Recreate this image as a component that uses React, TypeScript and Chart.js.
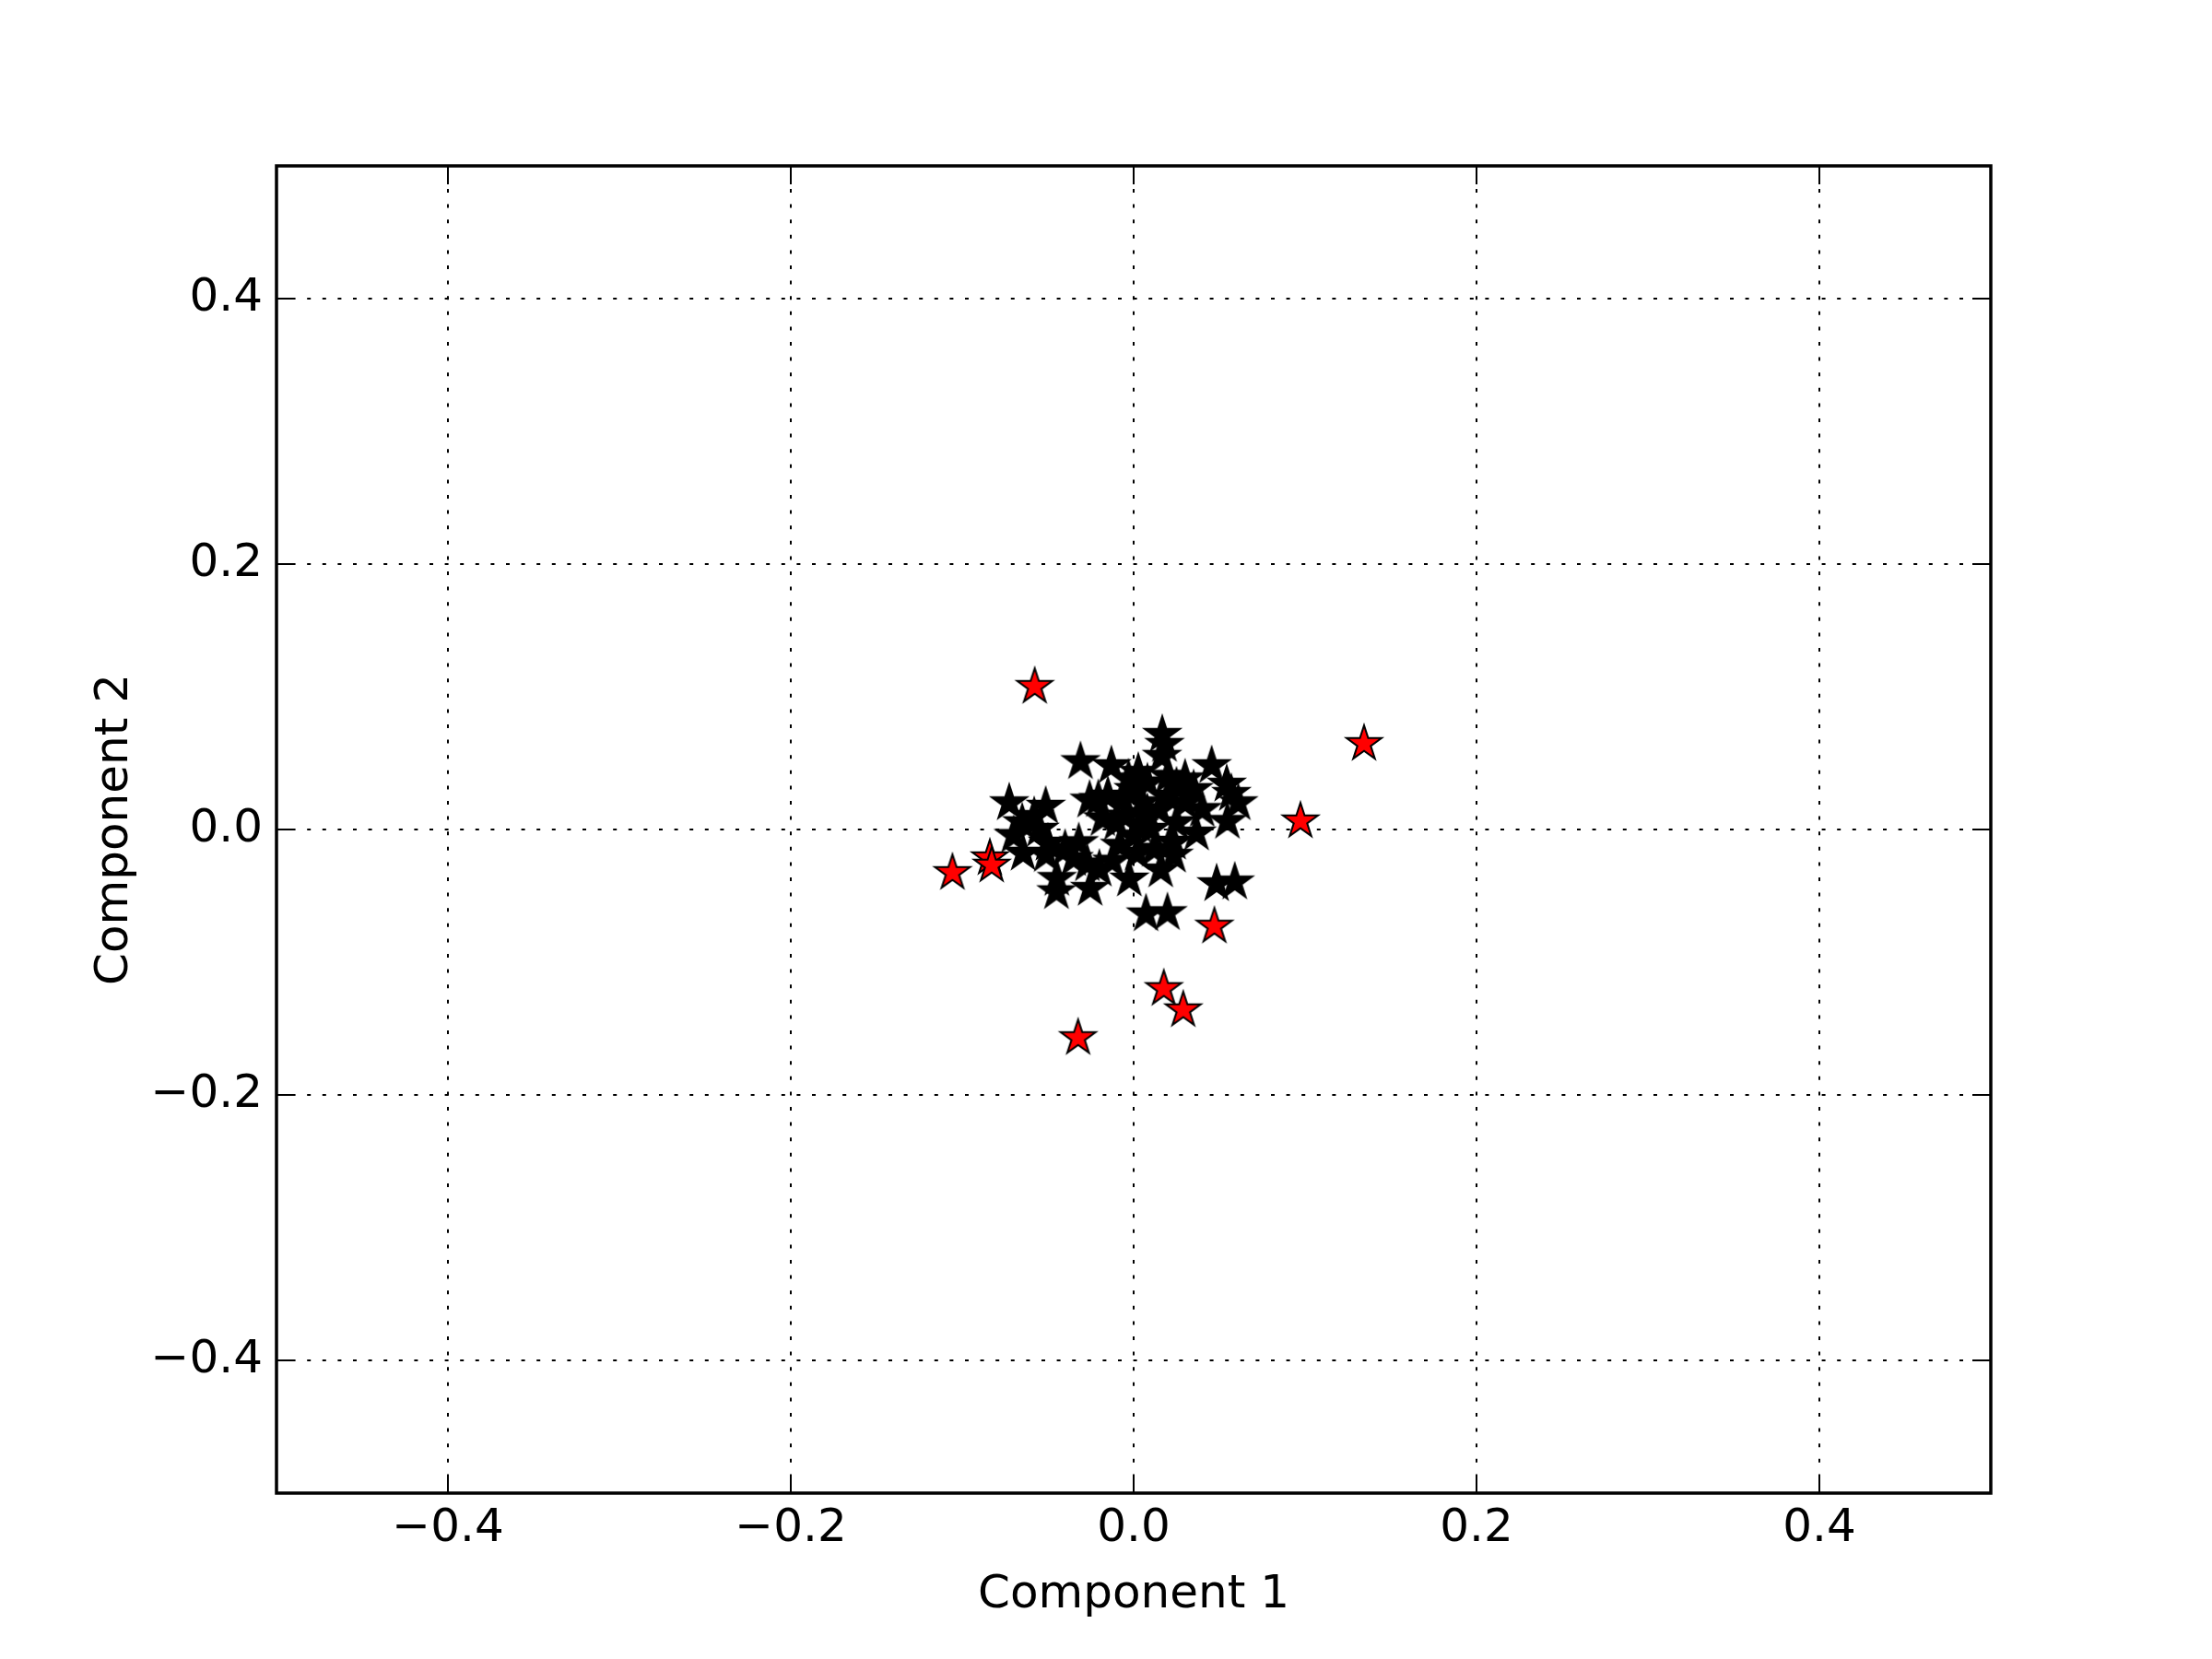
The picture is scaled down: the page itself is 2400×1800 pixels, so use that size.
import React, { useEffect, useRef } from "react";
import { Chart, registerables } from "chart.js";

Chart.register(...registerables);

const blackX = [
  0.0167, 0.018, 0.0165, -0.031, -0.013, 0.0027, 0.0455, 0.03, 0.0543, 0.057,
  0.061, 0.0547, -0.0726, -0.0513, -0.058, -0.0257, -0.0206, -0.07, -0.0645, -0.05,
  -0.051, -0.032, -0.0448, -0.045, -0.0254, -0.027, -0.0125, -0.0025, 0.0158, 0.0233,
  0.0367, 0.0484, 0.059, 0.0072, 0.0197, 0.0233, 0.0, 0.005, -0.005, 0.01,
  0.0, -0.01, 0.015, 0.02, 0.025, -0.015, 0.008, -0.003, 0.012, -0.008,
  0.03, 0.035, 0.02, 0.04, -0.065, -0.055, -0.04, -0.035, -0.02, -0.018,
  0.003, 0.008, -0.006, 0.025, 0.002,
];
const blackY = [
  0.0715, 0.064, 0.055, 0.051, 0.048, 0.043, 0.048, 0.038, 0.034, 0.027,
  0.02, 0.006, 0.02, 0.0174, 0.0097, 0.022, 0.0225, -0.0046, -0.018, -0.0104,
  -0.019, -0.01, -0.037, -0.047, -0.0445, -0.026, -0.024, -0.0375, -0.0306, -0.0097,
  -0.0028, -0.041, -0.0397, -0.0637, -0.0628, -0.0195, 0.03, 0.02, 0.01, 0.0,
  -0.005, 0.005, 0.015, 0.025, 0.005, 0.025, 0.035, 0.038, -0.015, -0.012,
  0.02, 0.03, 0.04, 0.015, 0.005, 0.0, -0.015, -0.022, -0.03, 0.008,
  0.003, 0.012, 0.022, 0.032, -0.018,
];

const redX = [-0.0577, 0.1344, 0.0973, -0.1057, -0.0839, -0.0828, 0.0471, 0.0176, 0.0289, -0.0324];
const redY = [0.1076, 0.0646, 0.0063, -0.0326, -0.0215, -0.027, -0.073, -0.12, -0.136, -0.157];

const tickValues = [-0.4, -0.2, 0.0, 0.2, 0.4];
const tickLabels = ["\u22120.4", "\u22120.2", "0.0", "0.2", "0.4"];
const axisMin = -0.5;
const axisMax = 0.5;
const xTitle = "Component 1";
const yTitle = "Component 2";

const FONT = "'DejaVu Sans', sans-serif";

function makeStar(fill: string): HTMLCanvasElement {
  const size = 48;
  const c = document.createElement("canvas");
  c.width = size;
  c.height = size;
  const ctx = c.getContext("2d")!;
  const R = 20;
  const r = R * 0.381966;
  const cx = size / 2;
  const cy = size / 2;
  ctx.beginPath();
  for (let i = 0; i < 10; i++) {
    const rad = i % 2 === 0 ? R : r;
    const a = -Math.PI / 2 + (i * Math.PI) / 5;
    const px = cx + rad * Math.cos(a);
    const py = cy + rad * Math.sin(a);
    if (i === 0) ctx.moveTo(px, py);
    else ctx.lineTo(px, py);
  }
  ctx.closePath();
  ctx.fillStyle = fill;
  ctx.fill();
  ctx.lineWidth = 2;
  ctx.lineJoin = "miter";
  ctx.strokeStyle = "#000000";
  ctx.stroke();
  return c;
}

const framePlugin = {
  id: "mplFrame",
  beforeDatasetsDraw(chart: any) {
    const { ctx, chartArea } = chart;
    const xs = chart.scales.x;
    const ys = chart.scales.y;
    ctx.save();
    ctx.strokeStyle = "#000000";
    ctx.lineWidth = 2;
    ctx.setLineDash([4, 12.6]);
    tickValues.forEach((v) => {
      const px = Math.round(xs.getPixelForValue(v));
      ctx.beginPath();
      ctx.moveTo(px, chartArea.bottom);
      ctx.lineTo(px, chartArea.top);
      ctx.stroke();
      const py = Math.round(ys.getPixelForValue(v));
      ctx.beginPath();
      ctx.moveTo(chartArea.left, py);
      ctx.lineTo(chartArea.right, py);
      ctx.stroke();
    });
    ctx.restore();
  },
  afterDatasetsDraw(chart: any) {
    const { ctx, chartArea } = chart;
    const xs = chart.scales.x;
    const ys = chart.scales.y;
    const tl = 20;
    ctx.save();
    ctx.strokeStyle = "#000000";
    ctx.setLineDash([]);
    ctx.lineWidth = 2;
    tickValues.forEach((v) => {
      const px = Math.round(xs.getPixelForValue(v));
      ctx.beginPath();
      ctx.moveTo(px, chartArea.bottom);
      ctx.lineTo(px, chartArea.bottom - tl);
      ctx.moveTo(px, chartArea.top);
      ctx.lineTo(px, chartArea.top + tl);
      ctx.stroke();
      const py = Math.round(ys.getPixelForValue(v));
      ctx.beginPath();
      ctx.moveTo(chartArea.left, py);
      ctx.lineTo(chartArea.left + tl, py);
      ctx.moveTo(chartArea.right, py);
      ctx.lineTo(chartArea.right - tl, py);
      ctx.stroke();
    });
    ctx.lineWidth = 3.5;
    ctx.strokeRect(chartArea.left, chartArea.top, chartArea.right - chartArea.left, chartArea.bottom - chartArea.top);
    ctx.restore();
  },
};

export default function App() {
  const ref = useRef<HTMLCanvasElement | null>(null);

  useEffect(() => {
    if (!ref.current) return;
    const blackStar = makeStar("#000000");
    const redStar = makeStar("#ff0000");
    const blackData = blackX.map((x, i) => ({ x, y: blackY[i] }));
    const redData = redX.map((x, i) => ({ x, y: redY[i] }));

    const setTicks = (scale: any) => {
      scale.ticks = tickValues.map((value) => ({ value }));
    };

    const chart = new Chart(ref.current, {
      type: "scatter",
      data: {
        datasets: [
          {
            data: blackData,
            pointStyle: blackStar as any,
            backgroundColor: "#000000",
            borderColor: "#000000",
          },
          {
            data: redData,
            pointStyle: redStar as any,
            backgroundColor: "#ff0000",
            borderColor: "#000000",
          },
        ],
      },
      options: {
        responsive: false,
        animation: false,
        events: [],
        layout: { padding: { top: 180, right: 240, left: 0, bottom: 0 } },
        plugins: {
          legend: { display: false },
          tooltip: { enabled: false },
        },
        scales: {
          x: {
            type: "linear",
            min: axisMin,
            max: axisMax,
            afterBuildTicks: setTicks,
            afterFit: (scale: any) => {
              scale.height = 180;
            },
            grid: { display: false, drawTicks: false },
            border: { display: false },
            ticks: {
              padding: 9,
              color: "#000000",
              font: { family: FONT, size: 50 },
              maxRotation: 0,
              autoSkip: false,
              callback: (_v: any, i: number) => tickLabels[i],
            },
            title: {
              display: true,
              text: xTitle,
              color: "#000000",
              font: { family: FONT, size: 50 },
              padding: { top: 0, bottom: 39 },
            },
          },
          y: {
            type: "linear",
            min: axisMin,
            max: axisMax,
            afterBuildTicks: setTicks,
            afterFit: (scale: any) => {
              scale.width = 300;
            },
            grid: { display: false, drawTicks: false },
            border: { display: false },
            ticks: {
              padding: 15,
              color: "#000000",
              font: { family: FONT, size: 50 },
              autoSkip: false,
              callback: (_v: any, i: number) => tickLabels[i],
            },
            title: {
              display: true,
              text: yTitle,
              color: "#000000",
              font: { family: FONT, size: 50 },
              padding: { top: 95, bottom: 0 },
            },
          },
        },
      },
      plugins: [framePlugin],
    });
    return () => chart.destroy();
  }, []);

  return (
    <div style={{ position: "absolute", left: 0, top: 0, width: 2400, height: 1800, background: "#ffffff" }}>
      <canvas ref={ref} width={2400} height={1800} style={{ width: 2400, height: 1800, display: "block" }} />
    </div>
  );
}
